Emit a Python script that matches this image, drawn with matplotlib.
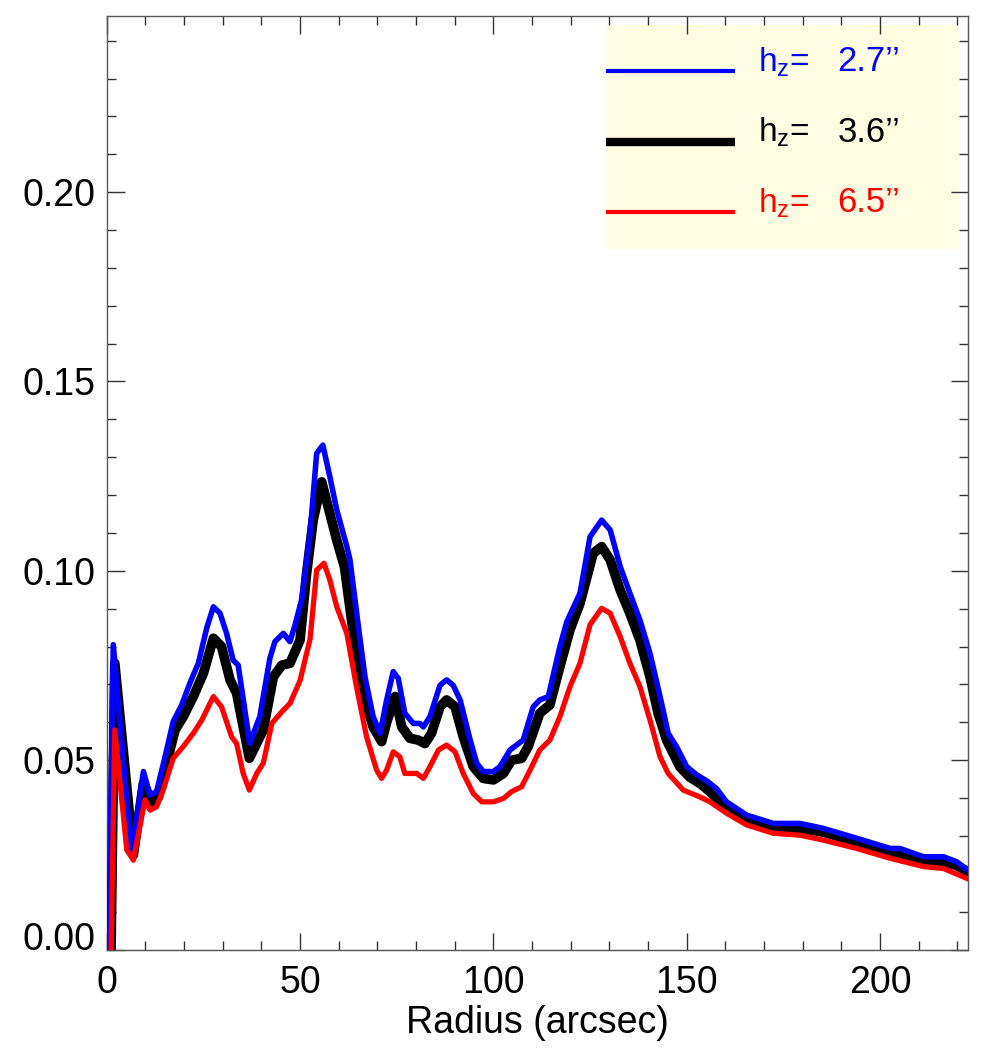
import matplotlib
matplotlib.use("Agg")
import matplotlib.pyplot as plt
from matplotlib.ticker import MultipleLocator, FormatStrFormatter
from matplotlib.patches import Rectangle

# ---- data ----
radius_27 = [0.4, 1.7, 6.4, 9.5, 11.2, 12.9, 15.1, 17.2, 19.4, 21.5, 23.7, 25.9, 27.6,
             29.3, 31.0, 32.7, 34.0, 37.0, 39.6, 42.2, 43.5, 45.7, 47.4, 48.7, 50.4,
             52.6, 54.3, 55.9, 57.7, 59.5, 62.1, 62.9, 65.1, 66.8, 68.9, 70.7, 72.4,
             74.1, 75.4, 77.1, 79.3, 81.0, 81.9, 83.6, 86.2, 87.9, 89.6, 91.4, 94.0,
             95.7, 97.4, 100.0, 101.7, 104.3, 106.0, 107.7, 110.3, 112.0, 114.2, 117.2,
             119.0, 122.4, 125.0, 128.0, 130.2, 132.8, 135.3, 137.9, 140.5, 143.1,
             145.2, 147.4, 150.0, 152.5, 155.2, 157.7, 160.3, 165.5, 172.4, 179.3,
             185.3, 193.9, 202.6, 205.1, 211.2, 216.4, 219.8, 222.6]
prof_27 = [-0.01, 0.0805, 0.0255, 0.0470, 0.0408, 0.0417, 0.0509, 0.0602, 0.0646, 0.0703,
           0.0756, 0.0850, 0.0905, 0.0888, 0.0835, 0.0764, 0.0751, 0.0545, 0.0615, 0.0769,
           0.0813, 0.0835, 0.0813, 0.0857, 0.0923, 0.1099, 0.1310, 0.1332, 0.1249, 0.1161,
           0.1064, 0.1030, 0.0852, 0.0720, 0.0615, 0.0571, 0.0659, 0.0734, 0.0716, 0.0624,
           0.0597, 0.0597, 0.0588, 0.0615, 0.0698, 0.0712, 0.0698, 0.0659, 0.0553, 0.0492,
           0.0470, 0.0470, 0.0483, 0.0527, 0.0540, 0.0553, 0.0641, 0.0659, 0.0668, 0.0800,
           0.0866, 0.0941, 0.1090, 0.1134, 0.1108, 0.1011, 0.0941, 0.0870, 0.0782, 0.0668,
           0.0571, 0.0535, 0.0483, 0.0462, 0.0445, 0.0425, 0.0390, 0.0355, 0.0333, 0.0333,
           0.0320, 0.0294, 0.0267, 0.0267, 0.0245, 0.0245, 0.0232, 0.0210]

radius_36 = [1.0, 2.1, 6.9, 9.5, 11.6, 13.4, 15.5, 17.7, 19.8, 22.4, 25.0, 27.6, 29.7,
             31.9, 33.6, 36.9, 40.5, 43.1, 45.3, 47.4, 50.0, 51.7, 53.4, 55.6, 57.7,
             59.5, 61.5, 64.7, 66.8, 68.9, 71.1, 72.4, 74.6, 76.3, 78.4, 80.6, 82.3,
             84.0, 86.2, 87.9, 90.1, 92.2, 94.8, 97.4, 100.0, 102.6, 104.7, 107.3, 109.0,
             112.0, 114.6, 117.2, 119.8, 122.4, 125.8, 128.0, 130.2, 132.8, 135.3, 137.9,
             140.5, 142.6, 144.8, 148.2, 150.8, 153.5, 156.0, 160.3, 165.5, 172.4, 179.3,
             185.3, 193.9, 202.6, 205.1, 211.2, 216.4, 219.8, 222.8]
prof_36 = [-0.01, 0.0756, 0.0250, 0.0439, 0.0390, 0.0403, 0.0492, 0.0580, 0.0615, 0.0668,
           0.0729, 0.0822, 0.0800, 0.0712, 0.0677, 0.0505, 0.0580, 0.0720, 0.0751, 0.0756,
           0.0817, 0.0993, 0.1134, 0.1235, 0.1152, 0.1081, 0.1010, 0.0764, 0.0659, 0.0588,
           0.0549, 0.0600, 0.0668, 0.0588, 0.0558, 0.0553, 0.0544, 0.0571, 0.0641, 0.0659,
           0.0641, 0.0562, 0.0483, 0.0452, 0.0448, 0.0465, 0.0500, 0.0505, 0.0536, 0.0624,
           0.0646, 0.0747, 0.0844, 0.0914, 0.1046, 0.1064, 0.1029, 0.0949, 0.0888, 0.0817,
           0.0720, 0.0624, 0.0553, 0.0483, 0.0455, 0.0438, 0.0417, 0.0373, 0.0343, 0.0320,
           0.0320, 0.0310, 0.0285, 0.0254, 0.0252, 0.0236, 0.0232, 0.0222, 0.0205]

radius_65 = [1.0, 2.1, 5.2, 6.9, 9.9, 11.2, 12.9, 14.6, 17.2, 19.8, 22.4, 24.6, 27.6,
             29.7, 32.3, 33.6, 35.3, 36.9, 38.8, 40.5, 42.7, 45.3, 47.4, 50.0, 52.6,
             54.3, 56.2, 57.7, 59.5, 62.1, 64.6, 67.2, 69.8, 71.1, 72.4, 74.1, 75.8,
             77.1, 80.2, 81.9, 83.6, 85.8, 87.9, 90.1, 92.2, 94.8, 97.0, 100.0, 102.6,
             104.7, 107.3, 109.5, 112.0, 114.6, 117.2, 119.8, 122.4, 125.0, 128.0, 130.2,
             132.8, 135.3, 137.9, 140.5, 143.1, 145.2, 149.1, 153.4, 156.0, 160.3, 165.5,
             172.4, 179.3, 185.3, 193.9, 202.6, 211.2, 216.4, 222.4]
prof_65 = [-0.01, 0.0580, 0.0263, 0.0236, 0.0395, 0.0368, 0.0377, 0.0421, 0.0505, 0.0536,
           0.0571, 0.0606, 0.0668, 0.0641, 0.0562, 0.0544, 0.0465, 0.0421, 0.0465, 0.0492,
           0.0597, 0.0628, 0.0650, 0.0710, 0.0820, 0.1002, 0.1020, 0.0976, 0.0905, 0.0835,
           0.0694, 0.0562, 0.0474, 0.0452, 0.0474, 0.0522, 0.0509, 0.0465, 0.0465, 0.0452,
           0.0483, 0.0527, 0.0540, 0.0522, 0.0465, 0.0412, 0.0390, 0.0390, 0.0399, 0.0417,
           0.0430, 0.0474, 0.0527, 0.0553, 0.0615, 0.0694, 0.0756, 0.0858, 0.0901, 0.0888,
           0.0826, 0.0756, 0.0694, 0.0606, 0.0509, 0.0465, 0.0421, 0.0403, 0.0390, 0.0360,
           0.0329, 0.0307, 0.0302, 0.0289, 0.0267, 0.0241, 0.0219, 0.0214, 0.0188]

legend_prefix = "h$_\\mathregular{z}$="
legend_values = ["2.7\u2019\u2019", "3.6\u2019\u2019", "6.5\u2019\u2019"]
series_colors = ["#0000ff", "#000000", "#ff0000"]
xticks = [0, 50, 100, 150, 200]
yticks = [0.00, 0.05, 0.10, 0.15, 0.20]
xlabel = "Radius (arcsec)"

# ---- plot ----
plt.rcParams['font.family'] = ['Liberation Sans', 'DejaVu Sans']
plt.rcParams['mathtext.fontset'] = 'custom'
plt.rcParams['mathtext.rm'] = 'Liberation Sans'

fig = plt.figure(figsize=(9.85, 10.54), dpi=100)
ax = fig.add_axes([0.1083, 0.0991, 0.8747, 0.8857])

lw_curve = {0: 4.0, 1: 7.0, 2: 3.8}
lw_leg = {0: 3.0, 1: 6.0, 2: 3.0}
z = {0: 3, 1: 2, 2: 4}
data = [(radius_27, prof_27), (radius_36, prof_36), (radius_65, prof_65)]
for i, (xr, yp) in enumerate(data):
    ax.plot(xr, yp, color=series_colors[i], lw=lw_curve[i], zorder=z[i])

ax.set_xlim(0, 222.8)
ax.set_ylim(0, 0.2465)
ax.set_xticks(xticks)
ax.set_yticks(yticks)
ax.xaxis.set_minor_locator(MultipleLocator(10))
ax.yaxis.set_minor_locator(MultipleLocator(0.01))
ax.yaxis.set_major_formatter(FormatStrFormatter('%.2f'))
ax.tick_params(which='both', direction='in', top=True, right=True, width=1.0,
               color='#333333', labelsize=27)
ax.tick_params(which='major', length=12.6)
ax.tick_params(which='minor', length=6.5)
ax.tick_params(axis='x', which='major', pad=11)
ax.tick_params(axis='y', which='major', pad=8)
for s in ax.spines.values():
    s.set_color('#555555')
    s.set_linewidth(1.0)
ax.set_xlabel(xlabel, fontsize=27, labelpad=3)

fig.canvas.draw()
ylabs = ax.get_yticklabels()
ylabs[0].set_verticalalignment('baseline')

# manual legend box
ax.add_patch(Rectangle((0.5795, 0.750), 0.41, 0.240, transform=ax.transAxes,
                       facecolor='#fffde1', edgecolor='none', zorder=1))
line_y = [0.941, 0.8653, 0.790]
for i in range(3):
    ax.plot([0.5795, 0.729], [line_y[i], line_y[i]], transform=ax.transAxes,
            color=series_colors[i], lw=lw_leg[i], zorder=5, solid_capstyle='butt')
    ax.text(0.756, line_y[i], legend_prefix, transform=ax.transAxes,
            color=series_colors[i], fontsize=24, va='baseline', ha='left', zorder=6)
    ax.text(0.848, line_y[i], legend_values[i], transform=ax.transAxes,
            color=series_colors[i], fontsize=25, va='baseline', ha='left', zorder=6)

fig.savefig("out.png", dpi=100)
